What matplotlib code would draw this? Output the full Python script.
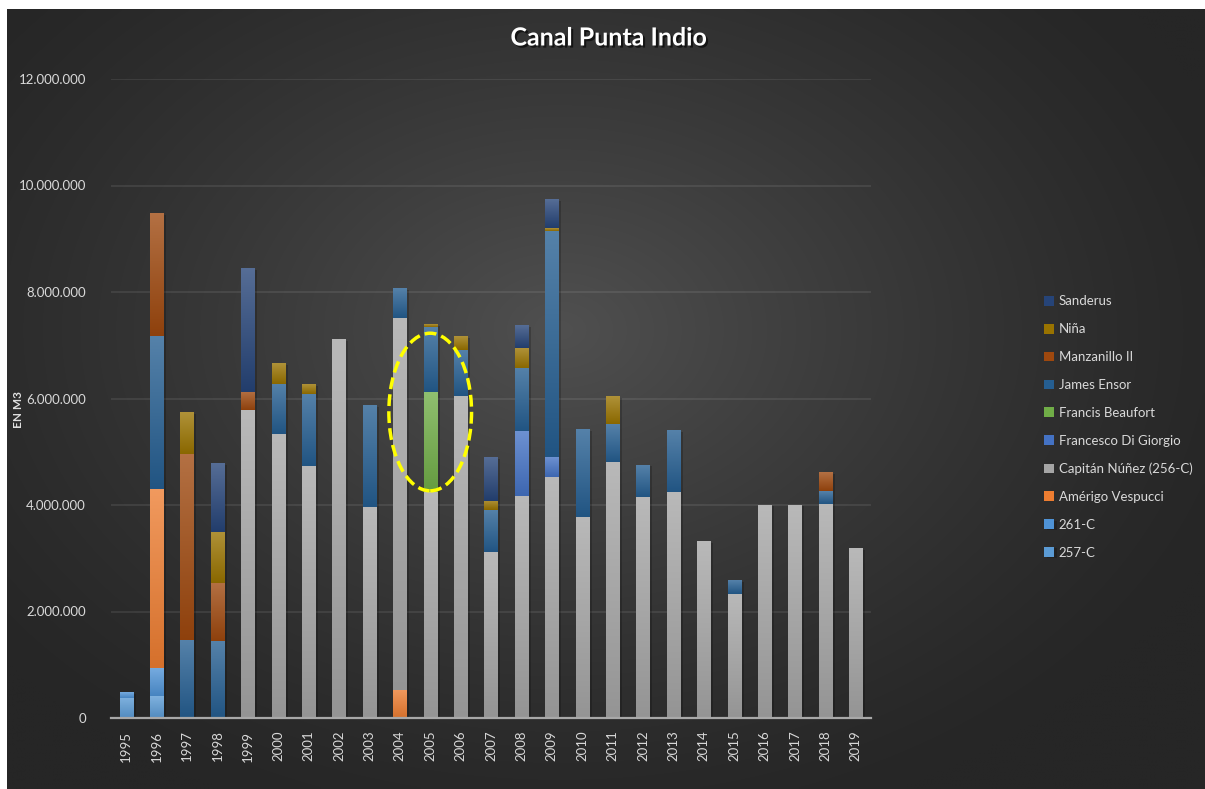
import numpy as np
import matplotlib
matplotlib.use("Agg")
import matplotlib.pyplot as plt
import matplotlib.patheffects as pe
from matplotlib.patches import Ellipse
from matplotlib.colors import to_rgb
from matplotlib.ticker import FuncFormatter, MultipleLocator

plt.rcParams['font.family'] = ['Lato', 'DejaVu Sans']

# --- datos (m3 por año y draga) ---
years = [str(y) for y in range(1995, 2020)]

s_257c = [380000, 410000] + [0] * 23
s_261c = [100000, 520000] + [0] * 23
s_vespucci = [0, 3370000, 0, 0, 0, 0, 0, 0, 0, 530000] + [0] * 15
s_nunez = [0, 0, 0, 0, 5780000, 5330000, 4730000, 7110000, 3960000, 6980000,
           4250000, 6040000, 3120000, 4170000, 4525000, 3775000, 4810000,
           4150000, 4240000, 3310000, 2330000, 4000000, 4000000, 4020000, 3175000]
s_digiorgio = [0] * 13 + [1220000, 375000] + [0] * 10
s_beaufort = [0] * 10 + [1870000] + [0] * 14
s_ensor = [0, 2870000, 1460000, 1440000, 0, 940000, 1360000, 0, 1910000, 560000,
           1220000, 870000, 790000, 1190000, 4245000, 1650000, 710000, 600000,
           1160000, 0, 245000, 0, 0, 240000, 0]
s_manzanillo = [0, 2300000, 3490000, 1090000, 340000] + [0] * 18 + [340000, 0]
s_nina = [0, 0, 780000, 960000, 0, 390000, 180000, 0, 0, 0, 40000, 260000,
          170000, 360000, 55000, 0, 510000] + [0] * 8
s_sanderus = [0, 0, 0, 1280000, 2310000, 0, 0, 0, 0, 0, 0, 0, 810000, 430000,
              530000] + [0] * 10

series = [
    ("257-C", s_257c, "#5B9BD5"),
    ("261-C", s_261c, "#4F93D6"),
    ("Amérigo Vespucci", s_vespucci, "#ED7D31"),
    ("Capitán Núñez (256-C)", s_nunez, "#A5A5A5"),
    ("Francesco Di Giorgio", s_digiorgio, "#4472C4"),
    ("Francis Beaufort", s_beaufort, "#70AD47"),
    ("James Ensor", s_ensor, "#255E91"),
    ("Manzanillo II", s_manzanillo, "#9E480E"),
    ("Niña", s_nina, "#997300"),
    ("Sanderus", s_sanderus, "#264478"),
]

W, H = 1205, 789
fig = plt.figure(figsize=(W / 100, H / 100), dpi=100, facecolor="white")

# fondo oscuro con degradado radial
bg = fig.add_axes([7 / W, 0, 1 - 7 / W, 1 - 9 / H], zorder=-10)
gx, gy = np.meshgrid(np.linspace(7, W, 300), np.linspace(9, H, 200))
d = np.sqrt(((gx - 560) / 720) ** 2 + ((gy - 330) / 520) ** 2)
d = np.clip(d, 0, 1)
lum = (38 + (80 - 38) * (1 - d) ** 1.3) / 255
bg.imshow(np.dstack([lum, lum, lum]), aspect="auto", extent=[0, 1, 0, 1],
          origin="upper", interpolation="bilinear")
bg.axis("off")

ax = fig.add_axes([111 / W, 71 / H, 760 / W, (718 - 79) / H])
ax.set_facecolor("none")

x = np.arange(len(years))
bw = 0.43
bottom = np.zeros(len(years))
handles = []
for name, vals, col in series:
    vals = np.array(vals, dtype=float)
    bars = ax.bar(x, vals, bw, bottom=bottom, color=col, label=name, zorder=2,
                  linewidth=0)
    handles.append(bars)
    rgb = np.array(to_rgb(col))
    top_c = rgb + (1 - rgb) * 0.22
    bot_c = rgb * 0.9
    t = np.linspace(0, 1, 64)[:, None]
    grad = (top_c * (1 - t) + bot_c * t)[:, None, :]
    for rect in bars:
        h = rect.get_height()
        if h <= 0:
            continue
        rect.set_path_effects([pe.SimplePatchShadow(offset=(2, -1), alpha=0.2,
                                                    shadow_rgbFace="black"),
                               pe.Normal()])
        x0, y0 = rect.get_x(), rect.get_y()
        ax.imshow(grad, extent=[x0, x0 + rect.get_width(), y0, y0 + h],
                  aspect="auto", origin="upper", zorder=3, interpolation="bilinear")
    bottom += vals

ax.set_xlim(-0.5, len(years) - 0.5)
ax.set_ylim(0, 12000000)
ax.set_aspect("auto")

ax.yaxis.set_major_locator(MultipleLocator(2000000))
ax.yaxis.set_major_formatter(FuncFormatter(lambda v, p: f"{v:,.0f}".replace(",", ".")))
ax.grid(axis="y", color="white", alpha=0.09, linewidth=1.3, zorder=0)
ax.set_axisbelow(True)
ax.set_xticks(x)
ax.set_xticklabels(years, rotation=90)
ax.tick_params(axis="y", length=0, pad=18, labelsize=9.5, labelcolor="#d9d9d9")
ax.tick_params(axis="x", length=0, pad=9, labelsize=9.5, labelcolor="#d9d9d9")
for side in ["top", "right", "left"]:
    ax.spines[side].set_visible(False)
ax.spines["bottom"].set_color("#a8a8a8")
ax.spines["bottom"].set_linewidth(1.6)
ax.spines["bottom"].set_zorder(4)

# resaltado del año 2005
ax.add_patch(Ellipse((10, 5746000), width=2.72, height=2960000, fill=False,
                     edgecolor="#ffff00", linewidth=2.5, linestyle=(0, (3.4, 1.5)),
                     zorder=6))

fig.text(18 / W, 1 - 410 / H, "EN M3", rotation=90, ha="center", va="center",
         fontsize=8.5, fontweight="bold", color="#e0e0e0")

fig.text(609 / W, 1 - 38 / H, "Canal Punta Indio", ha="center", va="center",
         fontsize=18, fontweight="bold", color="white",
         path_effects=[pe.withSimplePatchShadow(offset=(1.5, -1.5), alpha=0.6,
                                                shadow_rgbFace="black")])

leg = fig.legend(handles[::-1], [s[0] for s in series][::-1], loc="center left",
                 bbox_to_anchor=(1044 / W, 1 - 427 / H), frameon=False,
                 fontsize=9.5, labelcolor="#d9d9d9", handlelength=0.75,
                 handleheight=0.75, handletextpad=0.35, labelspacing=1.2,
                 borderpad=0, borderaxespad=0)

fig.savefig("out.png", dpi=100, facecolor=fig.get_facecolor())
